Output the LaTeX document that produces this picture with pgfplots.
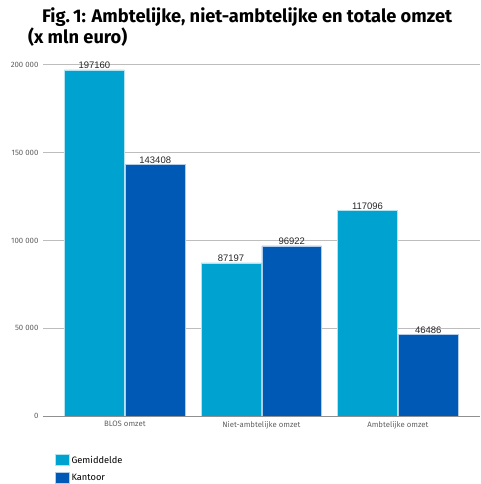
\documentclass[border=0pt]{standalone}
\usepackage{fontspec}
\setmainfont{Fira Sans}
\newfontfamily\arial{Liberation Sans}
\usepackage{pgfplots}
\pgfplotsset{compat=1.18}
\definecolor{cyanbar}{HTML}{00A3CF}
\definecolor{bluebar}{HTML}{0059B5}
\definecolor{tickgray}{HTML}{606060}
\definecolor{gridgray}{HTML}{BDBDBD}
\begin{document}
\begin{tikzpicture}
\begin{axis}[
  scale only axis, width=438pt, height=352pt,
  xmin=-0.6, xmax=2.6, ymin=0, ymax=200000,
  ybar=1pt, bar width=60pt,
  axis line style={draw=none},
  xtick=data,
  xticklabels={BLOS omzet, Niet-ambtelijke omzet, Ambtelijke omzet},
  ytick={0,50000,100000,150000,200000},
  yticklabels={0, 50 000, 100 000, 150 000, 200 000},
  scaled y ticks=false,
  major tick length=0pt,
  ymajorgrids, grid style={gridgray, line width=0.8pt},
  tick label style={font=\fontsize{7.8}{8}\selectfont, text=tickgray},
  yticklabel style={xshift=-1pt},
  xticklabel style={yshift=-2pt},
  point meta=explicit symbolic,
  nodes near coords,
  every node near coord/.append style={font=\arial\fontsize{9.5}{10}\selectfont, text=black!85, inner sep=0.8pt},
  clip=false,
  legend style={at={(rel axis cs:0,0)}, anchor=north west, xshift=12pt, yshift=-38pt,
    draw=none, fill=none, font=\fontsize{9.3}{10}\selectfont, row sep=5pt, inner sep=0pt},
  legend cell align=left,
  legend image code/.code={\fill[#1] (0pt,-5pt) rectangle (14pt,6pt);},
  ]
  \addplot[fill=cyanbar, draw=white!70!cyanbar, line width=0.5pt] coordinates {(0,197160) [197160] (1,87197) [87197] (2,117096) [117096]};
  \addlegendentry{Gemiddelde}
  \addplot[fill=bluebar, draw=white!70!bluebar, line width=0.5pt] coordinates {(0,143408) [143408] (1,96922) [96922] (2,46486) [46486]};
  \addlegendentry{Kantoor}
  \draw[tickgray!70, line width=1pt] (rel axis cs:0,0) -- (rel axis cs:1,0);
  \path ([xshift=-43pt,yshift=-67pt]rel axis cs:0,0) rectangle +(481pt,484pt);
  \node[anchor=north west,font=\bfseries\fontsize{18.3}{19.5}\selectfont,align=left,inner sep=0pt]
    at ([xshift=-15pt,yshift=57pt]rel axis cs:0,1)
    {\hspace*{14pt}Fig.\,1: Ambtelijke, niet-ambtelijke en totale omzet\\(x mln euro)};
\end{axis}
\end{tikzpicture}
\end{document}
